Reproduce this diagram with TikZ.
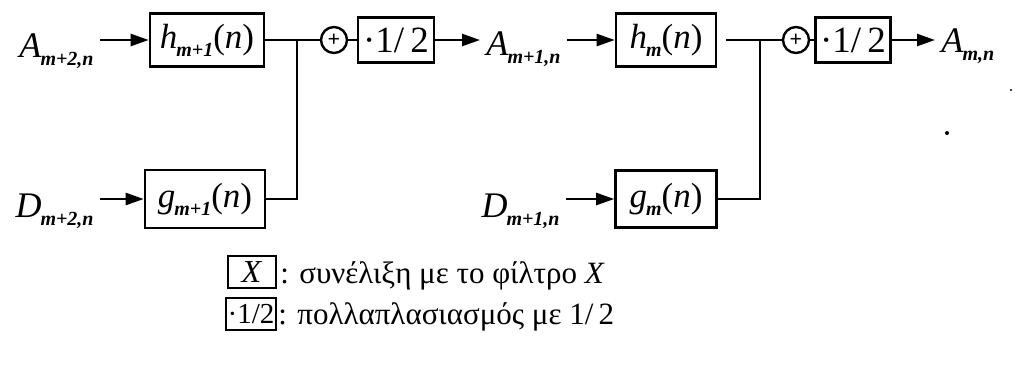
\documentclass[tikz,border=0pt]{standalone}
\usepackage{fontspec}
\setmainfont{Liberation Serif}
\usetikzlibrary{arrows.meta}
\usetikzlibrary{positioning}
\newcommand{\sig}[2]{\textit{#1}\kern-0.5pt\lower4pt\hbox{\fontsize{10}{10}\selectfont\bfseries\itshape #2}}

\begin{document}
\begin{tikzpicture}[x=0.5pt, y=-0.5pt,
        fbox/.style={draw, line width=1.3pt, inner sep=0pt, font=\fontsize{17.5}{17.5}\selectfont},
        sumc/.style={draw, circle, line width=1.2pt, minimum size=13pt, inner sep=0pt, font=\fontsize{11}{11}\selectfont\bfseries},
        lbl/.style={inner sep=3pt, font=\fontsize{18}{18}\selectfont},
        legend/.style={inner sep=0pt, font=\fontsize{15.5}{15.5}\selectfont},
        arr/.style={line width=1.2pt, -{Triangle[length=9pt,width=6pt]}},
        wire/.style={line width=1.2pt}]
        \useasboundingbox (0,0) rectangle (1015,371);

        \node [lbl, anchor=base east] (a2) at (100,57) {\sig{A}{m+2,n}};
        \node [lbl, anchor=base east] (d2) at (100,217) {\sig{D}{m+2,n}};
        \node [fbox, minimum width=57pt, minimum height=26.5pt] (h1) at (207,40) {\sig{h}{m+1}(\textit{n})};
        \node [fbox, minimum width=60pt, minimum height=29pt] (g1) at (205,199) {\sig{g}{m+1}(\textit{n})};
        \node [sumc] (s1) at (334,40) {+};
        \node [fbox, minimum width=38pt, minimum height=22.5pt, font=\fontsize{18.5}{18.5}\selectfont] (m1) at (396,40) {·1/\,2};
        \coordinate (j1) at (297,40);

        \node [lbl, anchor=base west] (a1) at (480,55) {\sig{A}{m+1,n}};
        \node [lbl, anchor=base east] (d1) at (566,217) {\sig{D}{m+1,n}};
        \node [fbox, minimum width=50pt, minimum height=26.5pt] (h2) at (666,40) {\sig{h}{m}(\textit{n})};
        \node [fbox, minimum width=50.5pt, minimum height=28.5pt] (g2) at (666,199) {\sig{g}{m}(\textit{n})};
        \node [sumc] (s2) at (796,40) {+};
        \node [fbox, minimum width=37.5pt, minimum height=22.5pt, font=\fontsize{18.5}{18.5}\selectfont] (m2) at (853,40) {·1/\,2};
        \coordinate (j2) at (760,40);
        \node [lbl, anchor=base west] (a0) at (935,52) {\sig{A}{m,n}};

        \draw [arr] (a2.east |- h1.west) -- (h1.west);
        \draw [arr] (d2.east |- g1.west) -- (g1.west);
        \draw [wire] (h1.east) -- (s1.west);
        \draw [wire] (g1.east) -| (j1);
        \draw [wire] (s1.east) -- (m1.west);
        \draw [arr] (m1.east) -- (a1.west |- m1.east);

        \draw [arr] (a1.east |- h2.west) -- (h2.west);
        \draw [arr] (d1.east |- g2.west) -- (g2.west);
        \draw [wire, shorten <=4.5pt] (h2.east) -- (s2.west);
        \draw [wire] (g2.east) -| (j2);
        \draw [wire] (s2.east) -- (m2.west);
        \draw [arr] (m2.east) -- (a0.west |- m2.east);

        \fill (947,133) circle (1pt);
        \fill (1011,90) circle (0.6pt);

        \node [fbox, minimum width=24pt, minimum height=16pt, font=\fontsize{16}{16}\selectfont] (lx) at (252,272) {\textit{X}};
        \node [legend, anchor=base west] (tx) at (280,283) {: συνέλιξη με το φίλτρο \textit{X}};
        \node [fbox, minimum width=25pt, minimum height=16pt, font=\fontsize{14.5}{14.5}\selectfont] (lm) at (251,314) {·1/2};
        \node [legend, anchor=base west] (tm) at (278,324) {: πολλαπλασιασμός με 1/\,2};
      \end{tikzpicture}
\end{document}
